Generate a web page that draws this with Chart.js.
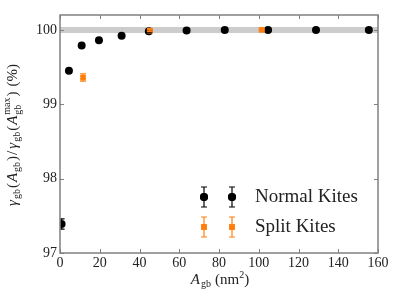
<!DOCTYPE html>
<html>
<head>
<meta charset="utf-8">
<script src="https://cdn.jsdelivr.net/npm/chart.js@4"></script>
<style>
	html, body { margin: 0; padding: 0; background: #fff; }
	#wrap { width: 399px; height: 299px; }
</style>
</head>
<body>
<div id="wrap"><canvas id="chart"></canvas></div>
<script>
// Data.
var normalX = [ 0.8, 4.5, 10.9, 19.6, 31.0, 44.7, 63.7, 82.9, 104.7, 128.8, 155.4 ];
var normalY = [ 97.39, 99.45, 99.79, 99.86, 99.92, 99.98, 99.99, 100.0, 100.0, 100.0, 100.0 ];
var normalErr = [ 0.07, 0.01, 0.01, 0.01, 0.01, 0.01, 0.01, 0.01, 0.01, 0.01, 0.01 ];

var splitX = [ 11.6, 45.2, 101.5 ];
var splitY = [ 99.36, 99.99, 100.0 ];
var splitErr = [ 0.05, 0.01, 0.01 ];

var bandX = [ 0, 160 ];
var bandY = [ 100, 100 ];

var xTicks = [ 0, 20, 40, 60, 80, 100, 120, 140, 160 ];
var yTicks = [ 97, 98, 99, 100 ];

var legendLabels = [ 'Normal Kites', 'Split Kites' ];

var BLACK = '#000000';
var ORANGE = '#ff7f0e';
var FRAME = '#808080';
var TEXT = '#222222';
var SERIF = '"Liberation Serif", serif';

Chart.defaults.font.family = SERIF;

function toPoints( xs, ys ) {
	return xs.map( function( x, i ) {
		return { x: x, y: ys[ i ] };
	} );
}

/**
 * Draw a run of text pieces (with sub/superscripts) centred on x.
 */
function drawRich( ctx, parts, cx, cy ) {
	var total = 0;
	parts.forEach( function( p ) {
		ctx.font = ( p.italic ? 'italic ' : '' ) + p.size + 'px ' + SERIF;
		p.w = ctx.measureText( p.t ).width;
		if ( p.stack ) {
			ctx.font = p.size + 'px ' + SERIF;
			p.w = Math.max( ctx.measureText( p.t ).width, ctx.measureText( p.stack ).width );
		}
		total += p.w + ( p.gap || 0 );
	} );
	var x = cx - total / 2;
	ctx.textBaseline = 'alphabetic';
	ctx.textAlign = 'left';
	parts.forEach( function( p ) {
		ctx.font = ( p.italic ? 'italic ' : '' ) + p.size + 'px ' + SERIF;
		ctx.fillText( p.t, x, cy + ( p.dy || 0 ) );
		if ( p.stack ) {
			ctx.fillText( p.stack, x, cy + p.sdy );
		}
		x += p.w + ( p.gap || 0 );
	} );
}

var errorBars = {
	id: 'errorBars',
	afterDatasetsDraw: function( chart ) {
		var ctx = chart.ctx;
		var xs = chart.scales.x;
		var ys = chart.scales.y;
		var area = chart.chartArea;
		ctx.save();
		ctx.beginPath();
		ctx.rect( area.left, area.top, area.right - area.left, area.bottom - area.top );
		ctx.clip();
		chart.data.datasets.forEach( function( ds ) {
			if ( ! ds.errors ) {
				return;
			}
			ctx.strokeStyle = ds.backgroundColor;
			ctx.lineWidth = 1.2;
			ds.data.forEach( function( p, i ) {
				var px = xs.getPixelForValue( p.x );
				var top = ys.getPixelForValue( p.y + ds.errors[ i ] );
				var bot = ys.getPixelForValue( p.y - ds.errors[ i ] );
				ctx.beginPath();
				ctx.moveTo( px, top );
				ctx.lineTo( px, bot );
				ctx.moveTo( px - 3, top );
				ctx.lineTo( px + 3, top );
				ctx.moveTo( px - 3, bot );
				ctx.lineTo( px + 3, bot );
				ctx.stroke();
			} );
		} );
		ctx.restore();
	}
};

var frameAndLabels = {
	id: 'frameAndLabels',
	afterDraw: function( chart ) {
		var ctx = chart.ctx;
		var a = chart.chartArea;
		var xs = chart.scales.x;
		var ys = chart.scales.y;
		ctx.save();

		// Inward ticks on all four sides.
		ctx.strokeStyle = FRAME;
		ctx.lineWidth = 1;
		ctx.beginPath();
		xTicks.forEach( function( v ) {
			var px = Math.round( xs.getPixelForValue( v ) ) + 0.5;
			ctx.moveTo( px, a.bottom );
			ctx.lineTo( px, a.bottom - 4 );
			ctx.moveTo( px, a.top );
			ctx.lineTo( px, a.top + 4 );
		} );
		yTicks.forEach( function( v ) {
			var py = Math.round( ys.getPixelForValue( v ) ) + 0.5;
			ctx.moveTo( a.left, py );
			ctx.lineTo( a.left + 4, py );
			ctx.moveTo( a.right, py );
			ctx.lineTo( a.right - 4, py );
		} );
		ctx.stroke();

		// Frame.
		ctx.lineWidth = 1.5;
		ctx.strokeRect( a.left, a.top, a.right - a.left, a.bottom - a.top );

		// Tick labels (serif, drawn at the scales' own pixel positions).
		ctx.fillStyle = TEXT;
		ctx.font = '14px ' + SERIF;
		ctx.textAlign = 'center';
		ctx.textBaseline = 'top';
		xTicks.forEach( function( v ) {
			ctx.fillText( String( v ), xs.getPixelForValue( v ), a.bottom + 3 );
		} );
		ctx.textAlign = 'right';
		ctx.textBaseline = 'middle';
		yTicks.forEach( function( v ) {
			ctx.fillText( String( v ), a.left - 3, ys.getPixelForValue( v ) );
		} );

		// Legend.
		var items = [
			{ color: BLACK, style: 'circle', y: 197, label: legendLabels[ 0 ] },
			{ color: ORANGE, style: 'rect', y: 227, label: legendLabels[ 1 ] }
		];
		items.forEach( function( it ) {
			[ 204, 232 ].forEach( function( mx ) {
				ctx.strokeStyle = it.color;
				ctx.lineWidth = 1.2;
				ctx.beginPath();
				ctx.moveTo( mx, it.y - 10 );
				ctx.lineTo( mx, it.y + 10 );
				ctx.moveTo( mx - 3, it.y - 10 );
				ctx.lineTo( mx + 3, it.y - 10 );
				ctx.moveTo( mx - 3, it.y + 10 );
				ctx.lineTo( mx + 3, it.y + 10 );
				ctx.stroke();
				ctx.fillStyle = it.color;
				Chart.helpers.drawPoint( ctx, { pointStyle: it.style, radius: 4, borderWidth: 0 }, mx, it.y );
				ctx.fill();
			} );
			ctx.fillStyle = TEXT;
			ctx.font = '19px ' + SERIF;
			ctx.textAlign = 'left';
			ctx.textBaseline = 'middle';
			ctx.fillText( it.label, 255, it.y );
		} );

		// Axis titles.
		ctx.fillStyle = TEXT;
		drawRich( ctx, [
			{ t: 'A', italic: true, size: 15, gap: 1 },
			{ t: 'gb', size: 10, dy: 3, gap: 4 },
			{ t: '(nm', size: 15 },
			{ t: '2', size: 10, dy: -6 },
			{ t: ')', size: 15 }
		], 220, 284 );

		ctx.translate( 17, 135 );
		ctx.rotate( -Math.PI / 2 );
		drawRich( ctx, [
			{ t: 'γ', italic: true, size: 15, gap: 1 },
			{ t: 'gb', size: 10, dy: 3, gap: 1 },
			{ t: '(', size: 15, gap: 1 },
			{ t: 'A', italic: true, size: 15, gap: 1 },
			{ t: 'gb', size: 10, dy: 3, gap: 1 },
			{ t: ')', size: 15, gap: 1 },
			{ t: '/', size: 15, gap: 2 },
			{ t: 'γ', italic: true, size: 15, gap: 1 },
			{ t: 'gb', size: 10, dy: 3, gap: 1 },
			{ t: '(', size: 15, gap: 1 },
			{ t: 'A', italic: true, size: 15, gap: 1 },
			{ t: 'gb', size: 10, dy: 4, stack: 'max', sdy: -7, gap: 1 },
			{ t: ')', size: 15, gap: 5 },
			{ t: '(%)', size: 15 }
		], 0, 0 );

		ctx.restore();
	}
};

new Chart( document.getElementById( 'chart' ), {
	type: 'scatter',
	data: {
		datasets: [ {
			label: 'band',
			type: 'line',
			data: toPoints( bandX, bandY ),
			borderColor: '#cccccc',
			borderWidth: 6,
			pointRadius: 0,
			fill: false,
			order: 3
		}, {
			label: legendLabels[ 0 ],
			data: toPoints( normalX, normalY ),
			errors: normalErr,
			backgroundColor: BLACK,
			borderWidth: 0,
			pointStyle: 'circle',
			pointRadius: 4,
			clip: 0,
			order: 2
		}, {
			label: legendLabels[ 1 ],
			data: toPoints( splitX, splitY ),
			errors: splitErr,
			backgroundColor: ORANGE,
			borderWidth: 0,
			pointStyle: 'rect',
			pointRadius: 4,
			clip: 0,
			order: 1
		} ]
	},
	options: {
		responsive: true,
		maintainAspectRatio: false,
		animation: false,
		events: [],
		layout: {
			padding: { top: 15, right: 21, left: 0, bottom: 0 }
		},
		plugins: {
			legend: { display: false },
			tooltip: { enabled: false }
		},
		scales: {
			x: {
				type: 'linear',
				min: 0,
				max: 160,
				afterFit: function( s ) { s.height = 46; },
				grid: { display: false, drawTicks: false },
				border: { display: false },
				ticks: { display: false, stepSize: 20 }
			},
			y: {
				type: 'linear',
				min: 97,
				max: 100.2,
				afterFit: function( s ) { s.width = 60; },
				grid: { display: false, drawTicks: false },
				border: { display: false },
				ticks: { display: false, stepSize: 1 }
			}
		}
	},
	plugins: [ errorBars, frameAndLabels ]
} );
</script>
</body>
</html>
